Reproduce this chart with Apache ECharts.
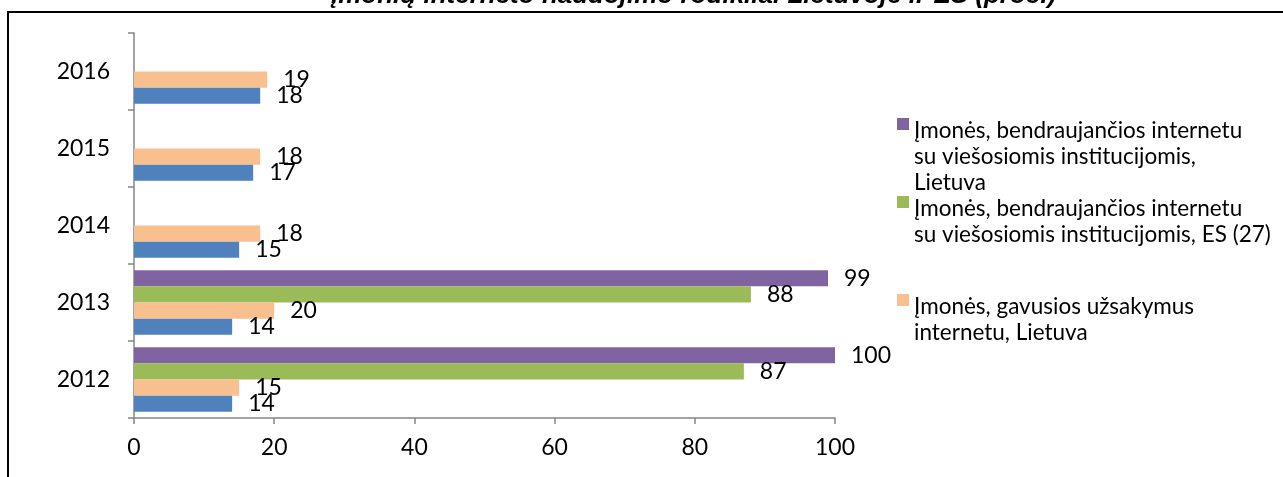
<!DOCTYPE html>
<html>
<head>
<meta charset="utf-8">
<script src="https://cdn.jsdelivr.net/npm/echarts@6/dist/echarts.min.js"></script>
<style>html,body{margin:0;padding:0;background:#fff;}#c{width:1283px;height:477px;}</style>
</head>
<body>
<div id="c"></div>
<script>
const titleText = 'Įmonių interneto naudojimo rodikliai Lietuvoje ir ES (proc.)';
const years = ['2012', '2013', '2014', '2015', '2016'];
const xTicks = [0, 20, 40, 60, 80, 100];
// listed top-to-bottom as they appear within each year band
const seriesNames = [
  'Įmonės, bendraujančios internetu su viešosiomis institucijomis, Lietuva',
  'Įmonės, bendraujančios internetu su viešosiomis institucijomis, ES (27)',
  'Įmonės, gavusios užsakymus internetu, Lietuva',
  'Įmonės, gavusios užsakymus internetu, ES (27)'
];
const legendLabels = [
  'Įmonės, bendraujančios internetu\nsu viešosiomis institucijomis,\nLietuva',
  'Įmonės, bendraujančios internetu\nsu viešosiomis institucijomis, ES (27)',
  'Įmonės, gavusios užsakymus\ninternetu, Lietuva',
  null
];
const govLT = [100, 99, null, null, null];
const govEU = [87, 88, null, null, null];
const ordersLT = [15, 20, 18, 18, 19];
const ordersEU = [14, 14, 15, 17, 18];
const seriesValues = [govLT, govEU, ordersLT, ordersEU];
const colors = ['#8064A2', '#9BBB59', '#F9C08F', '#4F81BD'];

const FONT = 'Lato, "Noto Sans", sans-serif';
const LH = 26;
const chart = echarts.init(document.getElementById('c'), null, {renderer: 'canvas'});

function legendFor(idx, top) {
  const lines = legendLabels[idx].split('\n').length;
  const h = lines * LH;
  // square marker aligned to the first text line; rest of the icon box is empty
  const icon = 'path://M0 0H12V12H0Z M0 ' + (h - 0.01) + 'H0.01V' + h + 'H0Z';
  return {
    data: [{name: seriesNames[idx], icon: icon}],
    left: 897,
    top: top,
    orient: 'vertical',
    padding: 0,
    itemWidth: 12,
    itemHeight: h,
    selectedMode: false,
    formatter: () => legendLabels[idx],
    textStyle: {
      fontFamily: FONT,
      fontSize: 22.5,
      lineHeight: LH,
      color: '#000'
    }
  };
}

chart.setOption({
  animation: false,
  backgroundColor: '#fff',
  color: colors,
  title: {
    text: titleText,
    left: 331,
    top: -17,
    padding: 0,
    textStyle: {fontFamily: '"Liberation Sans", Arial, sans-serif', fontWeight: 'bold', fontStyle: 'italic', fontSize: 26, color: '#000'}
  },
  graphic: [{
    type: 'rect',
    shape: {x: 8, y: 12, width: 1400, height: 600},
    style: {fill: null, stroke: '#000', lineWidth: 2},
    silent: true,
    z: -1
  }],
  legend: [legendFor(0, 118), legendFor(1, 196), legendFor(2, 294)],
  grid: {left: 134, right: 448, top: 33, bottom: 59, containLabel: false},
  xAxis: {
    type: 'value',
    min: xTicks[0],
    max: xTicks[xTicks.length - 1],
    interval: xTicks[1] - xTicks[0],
    splitLine: {show: false},
    axisLine: {show: true, lineStyle: {color: '#868686', width: 1.5}},
    axisTick: {show: true, length: 6, lineStyle: {color: '#868686', width: 1.5}},
    axisLabel: {fontFamily: FONT, fontSize: 23, color: '#000', margin: 18}
  },
  yAxis: {
    type: 'category',
    data: years,
    axisLine: {show: true, lineStyle: {color: '#868686', width: 1.5}},
    axisTick: {show: true, length: 6, alignWithLabel: false, lineStyle: {color: '#868686', width: 1.5}},
    axisLabel: {fontFamily: FONT, fontSize: 23, color: '#000', margin: 24}
  },
  series: seriesValues.map((vals, i) => ({
    type: 'bar',
    name: seriesNames[i],
    data: vals,
    barGap: 0,
    barCategoryGap: '16%',
    itemStyle: {color: colors[i]},
    label: {show: true, position: 'right', distance: 16, fontFamily: FONT, fontSize: 23, color: '#000'}
  }))
});
</script>
</body>
</html>
